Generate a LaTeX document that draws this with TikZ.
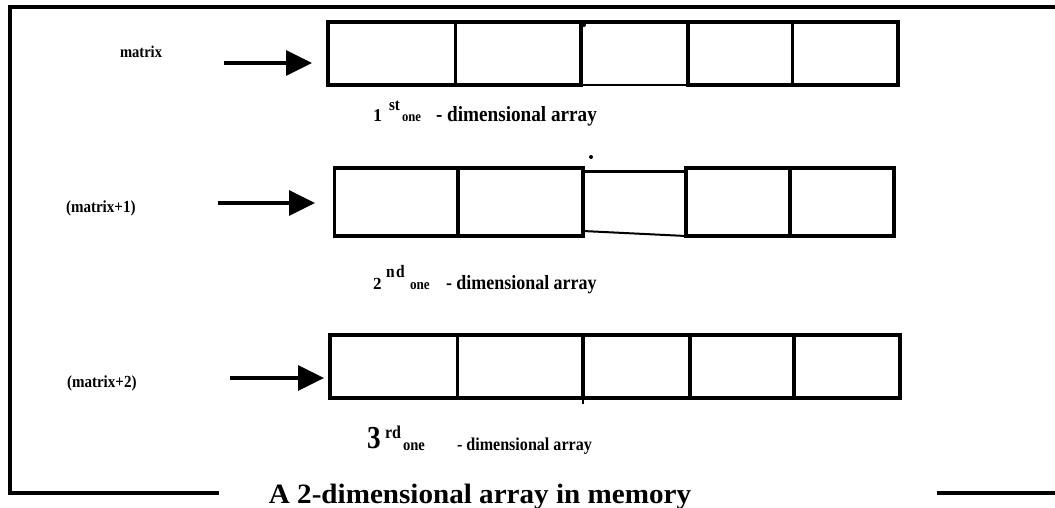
\documentclass[tikz,border=0pt]{standalone}
\usepackage{fontspec}
\setmainfont{Liberation Serif}
\usetikzlibrary{arrows.meta}
\newcommand{\fsz}[1]{\fontsize{#1}{#1}\selectfont\bfseries}
\newcommand{\tallish}[1]{\scalebox{0.94}[1.06]{#1}}
\begin{document}
\begin{tikzpicture}[x=1pt,y=-1pt,
  cell/.style={draw, line width=3.4pt, inner sep=0pt, outer sep=0pt, anchor=north west},
  ghost/.style={inner sep=0pt, outer sep=0pt, anchor=north west},
  frame/.style={line width=3.6pt},
  thick cell line/.style={line width=3.4pt},
  thin cell line/.style={line width=1.6pt},
  arr/.style={line width=3.4pt, -{Triangle[length=26pt,width=25pt]}},
  txt/.style={inner sep=0pt, outer sep=0pt, anchor=base west},
  dotmark/.style={fill=black}]
\useasboundingbox (0,0) rectangle (1055,507);
\fill[white] (0,0) rectangle (1055,507);

% frame
\draw[frame] (219,493) -| (10,7) -- (1062,7);
\draw[frame] (937,493) -- (1062,493);

% row 1
\node[cell, minimum width=127.5pt, minimum height=63pt] (r1a) at (328,22) {};
\node[cell, minimum width=125.5pt, minimum height=63pt] (r1b) at (455.5,22) {};
\node[ghost, minimum width=107pt, minimum height=63pt] (r1c) at (581,22) {};
\node[cell, minimum width=104.5pt, minimum height=63pt] (r1d) at (688,22) {};
\node[cell, minimum width=105.5pt, minimum height=63pt] (r1e) at (792.5,22) {};
\draw[thick cell line] (r1c.north west) -- (r1c.north east);
\draw[thin cell line] (r1c.south west) -- (r1c.south east);
\fill[dotmark] (584,25) circle (2pt);

% row 2
\node[cell, minimum width=123.5pt, minimum height=68pt] (r2a) at (334.5,168) {};
\node[cell, minimum width=125pt, minimum height=68pt] (r2b) at (458,168) {};
\node[ghost, minimum width=103pt, minimum height=65pt] (r2c) at (583,171) {};
\node[cell, minimum width=104pt, minimum height=68pt] (r2d) at (686,168) {};
\node[cell, minimum width=104pt, minimum height=68pt] (r2e) at (790,168) {};
\draw[line width=3pt] (r2c.north west) -- (r2c.north east);
\draw[line width=2pt] ([yshift=5pt]r2c.south west) -- (r2c.south east);
\fill[dotmark] (591,157) circle (2pt);

% row 3
\node[cell, minimum width=127.5pt, minimum height=63pt] (r3a) at (330,335) {};
\node[cell, minimum width=125.5pt, minimum height=63pt] (r3b) at (457.5,335) {};
\node[cell, minimum width=107pt, minimum height=63pt] (r3c) at (583,335) {};
\node[cell, minimum width=104pt, minimum height=63pt] (r3d) at (690,335) {};
\node[cell, minimum width=106pt, minimum height=63pt] (r3e) at (794,335) {};
\draw[line width=2.4pt] (r3c.south west) -- ++(0,6);

% pointer labels
\node[txt] (m0) at (120,57) {\fsz{15.5}\tallish{matrix}};
\node[txt] (m1) at (66,212) {\fsz{16}\tallish{(matrix+1)}};
\node[txt] (m2) at (67,387) {\fsz{16}\tallish{(matrix+2)}};

% arrows
\coordinate (p0) at (224,63);
\coordinate (p1) at (218,203);
\coordinate (p2) at (230,378);
\draw[arr, shorten >=16pt] (p0) -- (p0 -| r1a.west);
\draw[arr, shorten >=19.5pt] (p1) -- (p1 -| r2a.west);
\draw[arr, shorten >=6pt] (p2) -- (p2 -| r3a.west);

% row captions
\node[txt] (c1n) at (373,121) {\fsz{18}1};
\node[txt] (c1s) at (389,110) {\fsz{16}\tallish{st}};
\node[txt] (c1o) at (402,121) {\fsz{13.5}\tallish{one}};
\node[txt] (c1d) at (436,121) {\fsz{20.4}\tallish{- dimensional array}};

\node[txt] (c2n) at (373,289) {\fsz{17}2};
\node[txt] (c2s) at (386,277) {\fsz{16.5}\tallish{n\kern1.5pt d}};
\node[txt] (c2o) at (410,289) {\fsz{14}\tallish{one}};
\node[txt] (c2d) at (446,289) {\fsz{19.1}\tallish{- dimensional array}};

\node[txt] (c3n) at (367,448) {\fsz{32}\scalebox{0.85}[1]{3}};
\node[txt] (c3s) at (385,438) {\fsz{17}\tallish{rd}};
\node[txt] (c3o) at (403,450) {\fsz{15.5}\tallish{one}};
\node[txt] (c3d) at (457,450) {\fsz{17.1}\tallish{- dimensional array}};

% title
\node[inner sep=0pt, anchor=base] (title) at (480,503) {\fsz{28}\scalebox{1.04}[1]{A 2-dimensional array in memory}};
\end{tikzpicture}
\end{document}
